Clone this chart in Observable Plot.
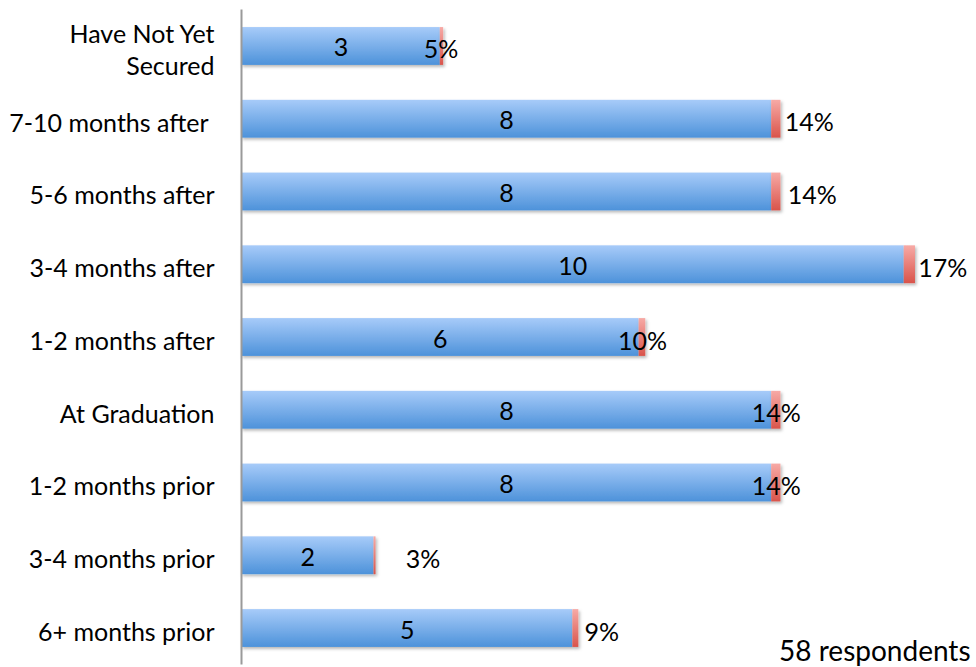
<!DOCTYPE html>
<html>
<head>
<meta charset="utf-8">
<script src="https://cdn.jsdelivr.net/npm/d3@7"></script>
<script src="https://cdn.jsdelivr.net/npm/@observablehq/plot@0.6"></script>
<style>
  html, body { margin: 0; padding: 0; background: #fff; }
</style>
</head>
<body>
<div id="chart"></div>
<script>
// Timing of job offers relative to graduation
const categories = [
  "Have Not Yet Secured",
  "7-10 months after ",
  "5-6 months after",
  "3-4 months after",
  "1-2 months after",
  "At Graduation",
  "1-2 months prior",
  "3-4 months prior",
  "6+ months prior"
];
const counts = [3, 8, 8, 10, 6, 8, 8, 2, 5];
const shares = [0.05, 0.14, 0.14, 0.17, 0.10, 0.14, 0.14, 0.03, 0.09];
const respondents = 58;

// horizontal nudge (px) of each percentage label from its segment centre
const shareLabelDx = [-1, 33, 36, 33, 0, 0, 0, 48, 26];

const rows = categories.map((category, i) => ({
  category,
  count: counts[i],
  share: shares[i],
  dx: shareLabelDx[i]
}));

// gradient fills and a soft drop shadow for the bars
const defs = () => {
  const d = d3.create("svg:defs");
  const grad = (id, top, bottom) => {
    const g = d.append("linearGradient").attr("id", id)
      .attr("x1", 0).attr("y1", 0).attr("x2", 0).attr("y2", 1);
    g.append("stop").attr("offset", "0%").attr("stop-color", top);
    g.append("stop").attr("offset", "100%").attr("stop-color", bottom);
  };
  grad("fill-count", "#a7cbf9", "#4d92da");
  grad("fill-share", "#f7aaa6", "#d9544b");
  const f = d.append("filter").attr("id", "bar-shadow")
    .attr("x", "-5%").attr("y", "-20%").attr("width", "115%").attr("height", "160%");
  f.append("feDropShadow").attr("dx", 1.5).attr("dy", 2)
    .attr("stdDeviation", 1.5).attr("flood-color", "#000").attr("flood-opacity", 0.28);
  return d.node();
};

const labelFont = 25;

const plot = Plot.plot({
  width: 976,
  height: 667,
  marginLeft: 241,
  marginRight: 6,
  marginTop: 9.6,
  marginBottom: 2.6,
  style: {
    fontFamily: "Lato, 'Open Sans', sans-serif",
    fontSize: `${labelFont}px`,
    color: "#000",
    background: "#fff",
    overflow: "visible"
  },
  x: { domain: [0, 11], axis: null },
  y: { domain: categories, paddingInner: 0.48, paddingOuter: 0.24, round: false, label: null },
  marks: [
    defs,
    Plot.barX(rows, {
      y: "category",
      x1: 0,
      x2: "count",
      fill: "url(#fill-count)"
    }),
    Plot.barX(rows, {
      y: "category",
      x1: d => d.count,
      x2: d => d.count + d.share,
      fill: "url(#fill-share)"
    }),
    Plot.ruleX([0], { stroke: "#9a9a9a", strokeWidth: 2 }),
    Plot.axisY({
      tickSize: 0,
      tickPadding: 27,
      lineHeight: 1.3,
      fontSize: labelFont,
      dy: 2,
      fill: "#000",
      label: null,
      tickFormat: d => d === "Have Not Yet Secured"
        ? "Have Not Yet\nSecured"
        : d.replace(/ $/, "\u00a0")
    }),
    Plot.text(rows, {
      x: d => d.count / 2,
      y: "category",
      text: d => String(d.count),
      fontSize: labelFont,
      dy: 2,
      fill: "#000"
    }),
    ...rows.map(r => Plot.text([r], {
      x: d => d.count + d.share / 2,
      y: "category",
      text: d => `${Math.round(d.share * 100)}%`,
      fontSize: labelFont,
      dx: r.dx,
      dy: 4,
      fill: "#000"
    })),
    Plot.text([`${respondents} respondents`], {
      frameAnchor: "bottom-right",
      lineAnchor: "bottom",
      fontSize: 28,
      dy: -3.5,
      fill: "#000"
    })
  ]
});

plot.querySelectorAll('g[aria-label="bar"]').forEach(g => g.setAttribute("filter", "url(#bar-shadow)"));
document.getElementById("chart").appendChild(plot);
</script>
</body>
</html>
